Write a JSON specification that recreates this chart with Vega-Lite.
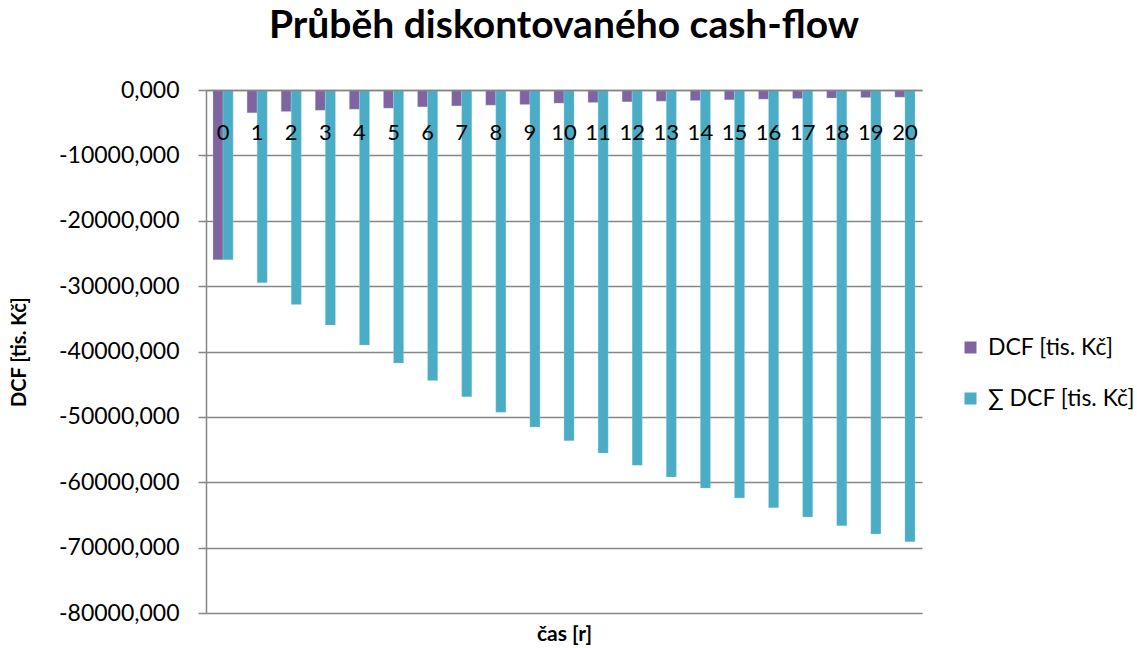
{
  "$schema": "https://vega.github.io/schema/vega-lite/v6.json",
  "width": 716,
  "height": 523,
  "autosize": {"type": "none"},
  "padding": {"left": 206, "top": 90, "right": 215, "bottom": 35},
  "background": "white",
  "title": {
    "text": "Průběh diskontovaného cash-flow",
    "font": "Lato",
    "fontSize": 39,
    "fontWeight": "bold",
    "color": "black",
    "anchor": "middle",
    "baseline": "alphabetic",
    "offset": 2
  },
  "data": {
    "values": [
      {"t": 0, "s": "DCF [tis. Kč]", "v": -25960},
      {"t": 1, "s": "DCF [tis. Kč]", "v": -3490},
      {"t": 2, "s": "DCF [tis. Kč]", "v": -3290},
      {"t": 3, "s": "DCF [tis. Kč]", "v": -3100},
      {"t": 4, "s": "DCF [tis. Kč]", "v": -2940},
      {"t": 5, "s": "DCF [tis. Kč]", "v": -2780},
      {"t": 6, "s": "DCF [tis. Kč]", "v": -2580},
      {"t": 7, "s": "DCF [tis. Kč]", "v": -2430},
      {"t": 8, "s": "DCF [tis. Kč]", "v": -2320},
      {"t": 9, "s": "DCF [tis. Kč]", "v": -2220},
      {"t": 10, "s": "DCF [tis. Kč]", "v": -2010},
      {"t": 11, "s": "DCF [tis. Kč]", "v": -1910},
      {"t": 12, "s": "DCF [tis. Kč]", "v": -1810},
      {"t": 13, "s": "DCF [tis. Kč]", "v": -1710},
      {"t": 14, "s": "DCF [tis. Kč]", "v": -1610},
      {"t": 15, "s": "DCF [tis. Kč]", "v": -1500},
      {"t": 16, "s": "DCF [tis. Kč]", "v": -1400},
      {"t": 17, "s": "DCF [tis. Kč]", "v": -1300},
      {"t": 18, "s": "DCF [tis. Kč]", "v": -1220},
      {"t": 19, "s": "DCF [tis. Kč]", "v": -1150},
      {"t": 20, "s": "DCF [tis. Kč]", "v": -1100},
      {"t": 0, "s": "∑ DCF [tis. Kč]", "v": -25960},
      {"t": 1, "s": "∑ DCF [tis. Kč]", "v": -29480},
      {"t": 2, "s": "∑ DCF [tis. Kč]", "v": -32800},
      {"t": 3, "s": "∑ DCF [tis. Kč]", "v": -35960},
      {"t": 4, "s": "∑ DCF [tis. Kč]", "v": -39020},
      {"t": 5, "s": "∑ DCF [tis. Kč]", "v": -41770},
      {"t": 6, "s": "∑ DCF [tis. Kč]", "v": -44420},
      {"t": 7, "s": "∑ DCF [tis. Kč]", "v": -46910},
      {"t": 8, "s": "∑ DCF [tis. Kč]", "v": -49310},
      {"t": 9, "s": "∑ DCF [tis. Kč]", "v": -51550},
      {"t": 10, "s": "∑ DCF [tis. Kč]", "v": -53640},
      {"t": 11, "s": "∑ DCF [tis. Kč]", "v": -55530},
      {"t": 12, "s": "∑ DCF [tis. Kč]", "v": -57410},
      {"t": 13, "s": "∑ DCF [tis. Kč]", "v": -59200},
      {"t": 14, "s": "∑ DCF [tis. Kč]", "v": -60890},
      {"t": 15, "s": "∑ DCF [tis. Kč]", "v": -62410},
      {"t": 16, "s": "∑ DCF [tis. Kč]", "v": -63890},
      {"t": 17, "s": "∑ DCF [tis. Kč]", "v": -65320},
      {"t": 18, "s": "∑ DCF [tis. Kč]", "v": -66640},
      {"t": 19, "s": "∑ DCF [tis. Kč]", "v": -67910},
      {"t": 20, "s": "∑ DCF [tis. Kč]", "v": -69090}
    ]
  },
  "mark": {"type": "bar", "stroke": "#a9d6e3", "strokeWidth": 0.5, "strokeOpacity": 0.6},
  "encoding": {
    "x": {
      "field": "t",
      "type": "ordinal",
      "scale": {"paddingInner": 0.41, "paddingOuter": 0.205},
      "axis": {
        "orient": "top",
        "zindex": 1,
        "title": "čas [r]",
        "titleY": 544,
        "titleBaseline": "middle",
        "titleFont": "Lato",
        "titleFontSize": 21,
        "titleFontWeight": "bold",
        "titleColor": "black",
        "labelAngle": 0,
        "labelFont": "Lato",
        "labelFontSize": 22,
        "labelColor": "black",
        "labelBaseline": "middle",
        "labelPadding": -42,
        "labelOverlap": false,
        "ticks": false,
        "tickSize": 0,
        "domain": true,
        "domainColor": "#868686",
        "domainWidth": 1.5
      }
    },
    "xOffset": {"field": "s", "type": "nominal", "sort": ["DCF [tis. Kč]", "∑ DCF [tis. Kč]"]},
    "y": {
      "field": "v",
      "type": "quantitative",
      "scale": {"domain": [-80000, 0], "nice": false},
      "axis": {
        "values": [0, -10000, -20000, -30000, -40000, -50000, -60000, -70000, -80000],
        "labelExpr": "replace(replace(format(datum.value, '.3f'), '.', ','), '−', '-')",
        "labelFont": "Lato",
        "labelFontSize": 23,
        "labelColor": "black",
        "labelPadding": 19,
        "tickSize": 8,
        "tickColor": "#868686",
        "tickWidth": 1.5,
        "domainColor": "#868686",
        "domainWidth": 1.5,
        "grid": true,
        "gridColor": "#868686",
        "gridWidth": 1.5,
        "title": "DCF [tis. Kč]",
        "titleFont": "Lato",
        "titleFontSize": 20,
        "titleFontWeight": "bold",
        "titleColor": "black",
        "titleX": -187,
        "titleBaseline": "middle"
      }
    },
    "color": {
      "field": "s",
      "type": "nominal",
      "sort": ["DCF [tis. Kč]", "∑ DCF [tis. Kč]"],
      "scale": {"domain": ["DCF [tis. Kč]", "∑ DCF [tis. Kč]"], "range": ["#8064A2", "#4BACC6"]},
      "legend": {
        "title": null,
        "orient": "none",
        "legendX": 753,
        "legendY": 246,
        "symbolType": "square",
        "symbolSize": 144,
        "symbolStrokeWidth": 0,
        "labelFont": "Lato",
        "labelFontSize": 23,
        "labelColor": "black",
        "rowPadding": 27,
        "labelOffset": 6
      }
    }
  },
  "config": {
    "view": {"stroke": null},
    "axis": {"gridOpacity": 1}
  }
}
